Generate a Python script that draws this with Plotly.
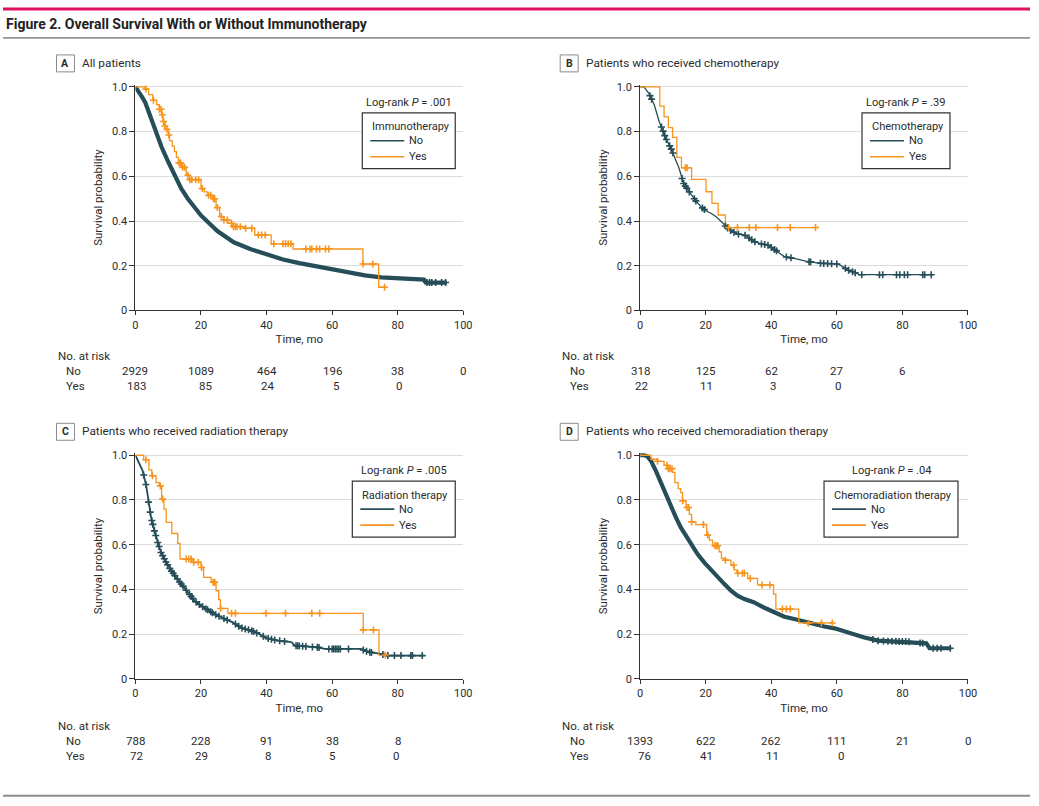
import numpy as np
import plotly.graph_objects as go

W, H = 1039, 806
# the photographed page shows up slightly scaled/offset; reference pixel -> page pixel compensation
SX, OXP = 0.989, 1.5
SY, OYP = 0.988, 4.0
FONT = "Roboto, Liberation Sans, Arial, sans-serif"
TXT = "#2b2b2b"
C_NO = "#254e58"
C_YES = "#f7941d"

# ---------------- data ----------------
risk_times = [0, 20, 40, 60, 80, 100]

# Panel A - All patients
A_no_t = [0, 1, 2, 3, 4, 5, 6, 7, 8, 10, 12, 14, 16, 18, 20, 25, 30, 35, 40, 45, 50, 55, 60, 65, 70, 75, 80, 85, 88, 88.6, 95]
A_no_s = [1.0, 0.98, 0.955, 0.93, 0.89, 0.85, 0.81, 0.77, 0.73, 0.665, 0.60, 0.545, 0.50, 0.46, 0.425, 0.355, 0.305, 0.275, 0.25, 0.228, 0.212, 0.198, 0.186, 0.172, 0.157, 0.148, 0.143, 0.140, 0.138, 0.125, 0.125]
A_no_cens = [88.9, 89.7, 90.4, 91.6, 93.4, 94.6]
A_yes_t = [0, 2.8, 4.0, 5.3, 6.5, 7.3, 8.0, 8.4, 9.0, 9.4, 10.0, 10.4, 11.2, 11.9, 12.5, 13.1, 14.0, 15.5, 16.5, 20.0, 21.0, 22.0, 23.6, 24.6, 25.7, 27.0, 28.2, 29.7, 33.3, 36.4, 41.4, 48.1, 69.4, 74.2, 76.0]
A_yes_s = [1.0, 0.99, 0.965, 0.94, 0.92, 0.90, 0.875, 0.845, 0.825, 0.81, 0.785, 0.76, 0.735, 0.71, 0.685, 0.66, 0.64, 0.605, 0.585, 0.545, 0.53, 0.515, 0.50, 0.46, 0.42, 0.405, 0.39, 0.375, 0.368, 0.338, 0.298, 0.275, 0.208, 0.104, 0.104]
A_yes_cens = [3.2, 5.5, 7.3, 7.8, 8.2, 8.6, 9.0, 9.6, 10.2, 13.3, 13.8, 14.4, 15.0, 16.0, 16.6, 17.2, 18.4, 19.3, 20.4, 22.3, 23.0, 23.8, 24.2, 25.0, 26.2, 27.0, 28.0, 29.3, 29.9, 30.5, 31.0, 32.0, 33.6, 35.5, 37.5, 38.5, 39.6, 42.2, 45.0, 45.8, 46.6, 47.4, 52.0, 53.2, 53.8, 55.2, 56.2, 58.0, 59.0, 69.4, 72.4, 76.0]

# Panel B - Chemotherapy
B_no_t = [0, 1.2, 2.7, 4.3, 5.8, 6.8, 7.8, 9.4, 10.4, 11.9, 13.2, 14.3, 15.5, 17.0, 18.5, 20.0, 21.6, 23.1, 24.6, 26.2, 27.7, 29.7, 31.8, 33.3, 34.8, 36.9, 38.9, 40.4, 42.0, 44.0, 48.0, 51.1, 55.2, 60.3, 61.8, 63.3, 65.4, 66.9, 88.8]
B_no_s = [1.0, 1.0, 0.97, 0.92, 0.845, 0.81, 0.77, 0.725, 0.69, 0.635, 0.57, 0.545, 0.52, 0.49, 0.465, 0.446, 0.435, 0.42, 0.40, 0.375, 0.357, 0.342, 0.338, 0.323, 0.308, 0.298, 0.293, 0.278, 0.263, 0.241, 0.23, 0.219, 0.211, 0.208, 0.196, 0.182, 0.17, 0.16, 0.16]
B_no_cens = [3.0, 3.5, 6.5, 7.0, 7.5, 8.0, 9.0, 9.5, 10.0, 12.8, 13.3, 13.8, 14.2, 15.0, 16.5, 17.0, 19.0, 19.6, 26.0, 26.6, 27.6, 28.6, 30.0, 32.0, 33.2, 34.0, 35.0, 37.0, 38.0, 39.0, 40.0, 41.0, 41.6, 44.6, 46.0, 51.5, 52.0, 55.0, 56.0, 57.2, 58.4, 60.0, 62.6, 63.6, 64.8, 65.6, 67.6, 73.0, 74.0, 78.2, 79.2, 80.6, 81.6, 86.2, 86.8, 88.8]
B_yes_t = [0, 6.0, 7.3, 8.6, 9.9, 11.2, 12.6, 15.7, 20.1, 21.9, 23.8, 26.0, 53.5]
B_yes_s = [1.0, 0.914, 0.866, 0.818, 0.774, 0.685, 0.638, 0.586, 0.531, 0.479, 0.427, 0.371, 0.371]
B_yes_cens = [13.8, 14.3, 27.0, 29.7, 33.3, 35.3, 41.9, 45.8, 53.5]

# Panel C - Radiation therapy
C_no_t = [0, 1.2, 2.2, 3.3, 4.1, 4.8, 5.8, 6.8, 7.8, 9.4, 10.9, 12.4, 14.0, 16.0, 18.0, 20.0, 22.1, 24.1, 27.2, 29.7, 32.3, 35.3, 37.9, 39.9, 43.5, 47.6, 48.6, 55.7, 57.7, 68.9, 70.0, 71.5, 75.0, 76.6, 87.8]
C_no_s = [1.0, 0.96, 0.93, 0.863, 0.78, 0.72, 0.662, 0.61, 0.565, 0.52, 0.484, 0.454, 0.424, 0.387, 0.35, 0.327, 0.308, 0.29, 0.268, 0.253, 0.228, 0.216, 0.20, 0.182, 0.171, 0.164, 0.149, 0.141, 0.134, 0.134, 0.126, 0.119, 0.112, 0.104, 0.104]
C_no_cens = [2.5, 3.2, 4.0, 4.5, 5.0, 5.3, 5.8, 6.2, 6.8, 7.2, 7.8, 8.3, 8.8, 9.3, 9.8, 10.5, 11.0, 11.5, 12.0, 12.8, 13.5, 14.0, 14.5, 15.5, 16.5, 17.0, 17.5, 18.5, 19.5, 20.5, 21.5, 22.0, 23.0, 23.5, 24.5, 25.5, 27.0, 28.0, 30.5, 31.5, 32.5, 33.5, 34.5, 35.5, 36.0, 37.0, 39.0, 40.5, 41.5, 42.5, 44.0, 45.5, 49.0, 49.5, 50.0, 51.0, 52.0, 54.0, 55.5, 56.0, 59.0, 60.0, 60.5, 61.0, 61.5, 62.0, 62.5, 65.0, 69.5, 70.5, 71.5, 72.0, 75.5, 77.0, 79.0, 81.0, 84.0, 84.5, 87.5]
C_yes_t = [0, 2.5, 4.1, 5.0, 6.3, 7.3, 8.0, 8.7, 9.4, 11.1, 12.9, 13.6, 17.5, 20.0, 20.8, 23.1, 24.6, 25.4, 25.9, 28.2, 69.5, 74.3, 76.3]
C_yes_s = [1.0, 0.98, 0.935, 0.908, 0.878, 0.863, 0.804, 0.759, 0.70, 0.65, 0.606, 0.536, 0.521, 0.498, 0.454, 0.432, 0.394, 0.354, 0.315, 0.293, 0.219, 0.107, 0.107]
C_yes_cens = [3.2, 5.2, 7.6, 8.3, 15.5, 16.3, 17.0, 17.8, 19.2, 20.2, 23.7, 24.2, 26.0, 29.3, 30.5, 39.8, 45.8, 53.8, 56.2, 69.5, 72.6, 76.2]

# Panel D - Chemoradiation therapy
D_no_t = [0, 1.2, 2.2, 3.3, 4.8, 6.3, 7.8, 9.4, 10.9, 12.4, 14.0, 15.5, 17.5, 19.6, 21.6, 23.6, 25.7, 27.7, 29.7, 31.8, 34.8, 37.9, 40.9, 44.0, 47.0, 50.1, 53.2, 56.2, 59.3, 62.3, 65.4, 68.4, 72.5, 76.6, 81.7, 85.2, 87.3, 88.3, 94.9]
D_no_s = [1.0, 1.0, 0.995, 0.975, 0.93, 0.878, 0.82, 0.766, 0.722, 0.677, 0.64, 0.603, 0.558, 0.52, 0.487, 0.457, 0.424, 0.394, 0.372, 0.357, 0.342, 0.318, 0.298, 0.278, 0.268, 0.256, 0.246, 0.234, 0.226, 0.211, 0.199, 0.185, 0.171, 0.168, 0.167, 0.16, 0.159, 0.137, 0.137]
D_no_cens = [71.0, 72.6, 74.2, 75.6, 76.8, 78.0, 79.0, 80.0, 81.0, 82.0, 85.4, 86.2, 89.4, 90.6, 91.8, 94.6]
D_yes_t = [0, 3.3, 5.3, 7.3, 8.4, 9.9, 10.6, 11.6, 12.4, 12.9, 14.0, 15.0, 15.7, 17.0, 20.3, 21.1, 22.1, 24.1, 24.8, 25.9, 27.7, 28.7, 29.5, 32.8, 35.8, 40.7, 41.4, 48.4, 58.8]
D_yes_s = [1.0, 0.982, 0.973, 0.955, 0.94, 0.923, 0.878, 0.851, 0.833, 0.796, 0.766, 0.736, 0.702, 0.69, 0.643, 0.62, 0.595, 0.568, 0.539, 0.531, 0.509, 0.487, 0.472, 0.449, 0.42, 0.379, 0.312, 0.25, 0.25]
D_yes_cens = [5.3, 8.2, 8.6, 9.1, 9.7, 13.0, 14.3, 14.8, 15.7, 19.3, 20.6, 22.8, 23.3, 23.7, 26.0, 28.5, 29.8, 31.2, 31.8, 33.6, 37.2, 39.6, 43.4, 44.6, 45.8, 51.3, 55.3, 58.6]

# Numbers at risk
A_risk_no = [2929, 1089, 464, 196, 38, 0]
A_risk_yes = [183, 85, 24, 5, 0]
B_risk_no = [318, 125, 62, 27, 6]
B_risk_yes = [22, 11, 3, 0]
C_risk_no = [788, 228, 91, 38, 8]
C_risk_yes = [72, 29, 8, 5, 0]
D_risk_no = [1393, 622, 262, 111, 21, 0]
D_risk_yes = [76, 41, 11, 0]

panel_titles = ["All patients", "Patients who received chemotherapy",
                "Patients who received radiation therapy", "Patients who received chemoradiation therapy"]
legend_titles = ["Immunotherapy", "Chemotherapy", "Radiation therapy", "Chemoradiation therapy"]
group_names = ["No", "Yes"]
pvalues = [".001", ".39", ".005", ".04"]
y_ticks = [0, 0.2, 0.4, 0.6, 0.8, 1.0]
y_ticktext = ["0", "0.2", "0.4", "0.6", "0.8", "1.0"]
x_ticks = [0, 20, 40, 60, 80, 100]

# ---------------- layout geometry (reference pixels -> paper) ----------------
def px(x):
    return min(1.0, max(0.0, (x - OXP) / SX / W))

def py(y):
    return min(1.0, max(0.0, 1 - (y - OYP) / SY / H))

panels = [
    dict(key="A", x0=134, x1=462, ytop=87, ybot=311, lbl_x=55, lbl_y=55, leg=(361, 113, 93), lr_y=103, risk_y=357,
         no_t=A_no_t, no_s=A_no_s, no_c=A_no_cens, yes_t=A_yes_t, yes_s=A_yes_s, yes_c=A_yes_cens, no_w=4.2, no_ms=5,
         r_no=A_risk_no, r_yes=A_risk_yes),
    dict(key="B", x0=639, x1=967, ytop=87, ybot=311, lbl_x=559, lbl_y=55, leg=(861, 113, 88), lr_y=103, risk_y=357,
         no_t=B_no_t, no_s=B_no_s, no_c=B_no_cens, yes_t=B_yes_t, yes_s=B_yes_s, yes_c=B_yes_cens, no_w=1.3, no_ms=5,
         r_no=B_risk_no, r_yes=B_risk_yes),
    dict(key="C", x0=134, x1=462, ytop=456, ybot=680, lbl_x=55, lbl_y=424, leg=(351, 482, 103), lr_y=471, risk_y=727,
         no_t=C_no_t, no_s=C_no_s, no_c=C_no_cens, yes_t=C_yes_t, yes_s=C_yes_s, yes_c=C_yes_cens, no_w=1.8, no_ms=5,
         r_no=C_risk_no, r_yes=C_risk_yes),
    dict(key="D", x0=639, x1=967, ytop=456, ybot=680, lbl_x=559, lbl_y=424, leg=(823, 482, 134), lr_y=471, risk_y=727,
         no_t=D_no_t, no_s=D_no_s, no_c=D_no_cens, yes_t=D_yes_t, yes_s=D_yes_s, yes_c=D_yes_cens, no_w=4.2, no_ms=5,
         r_no=D_risk_no, r_yes=D_risk_yes),
]

def on_curve(times, t, s, step):
    t = np.asarray(t, float)
    s = np.asarray(s, float)
    times = np.asarray(times, float)
    if step:
        idx = np.searchsorted(t, times, side="right") - 1
        return s[np.clip(idx, 0, len(s) - 1)]
    return np.interp(times, t, s)

def txt(text, x, y, xanchor="left", size=11.5, xref="paper", xshift=0, color=TXT):
    return dict(text=text, xref=xref, yref="paper", x=x, y=y, xanchor=xanchor, yanchor="middle",
                xshift=xshift, showarrow=False, font=dict(family=FONT, size=size, color=color))

fig = go.Figure()
annotations = []
shapes = []
YMAX = 1.01

for i, p in enumerate(panels):
    n = i + 1
    xa = "x" if n == 1 else f"x{n}"
    ya = "y" if n == 1 else f"y{n}"
    span = p["ybot"] - p["ytop"]
    top_px = p["ytop"] - (YMAX - 1.0) * span
    fig.update_layout(**{
        ("xaxis" if n == 1 else f"xaxis{n}"): dict(
            domain=[px(p["x0"]), px(p["x1"])], range=[0, 100], anchor=ya,
            tickvals=x_ticks, showgrid=False, zeroline=False, showline=True,
            linecolor="#333333", linewidth=1, ticks="outside", ticklen=4, tickcolor="#333333",
            tickfont=dict(family=FONT, size=11, color=TXT),
            title=dict(text="Time, mo", font=dict(family=FONT, size=11.5, color=TXT), standoff=4),
            fixedrange=True),
        ("yaxis" if n == 1 else f"yaxis{n}"): dict(
            domain=[py(p["ybot"]), py(top_px)], range=[0, YMAX], anchor=xa,
            tickvals=y_ticks, ticktext=y_ticktext, showgrid=True, gridcolor="#dcdcdc", gridwidth=1,
            zeroline=False, showline=True, linecolor="#333333", linewidth=1,
            ticks="outside", ticklen=5, tickcolor="#333333",
            tickfont=dict(family=FONT, size=11, color=TXT),
            title=dict(text="Survival probability", font=dict(family=FONT, size=11.5, color=TXT), standoff=6),
            fixedrange=True),
    })

    # curves
    fig.add_trace(go.Scatter(x=p["no_t"], y=p["no_s"], mode="lines", name=group_names[0],
                             line=dict(color=C_NO, width=p["no_w"], shape="linear"),
                             xaxis=xa, yaxis=ya, showlegend=False, hoverinfo="skip"))
    fig.add_trace(go.Scatter(x=p["yes_t"], y=p["yes_s"], mode="lines", name=group_names[1],
                             line=dict(color=C_YES, width=1.3, shape="hv"),
                             xaxis=xa, yaxis=ya, showlegend=False, hoverinfo="skip"))
    fig.add_trace(go.Scatter(x=p["no_c"], y=on_curve(p["no_c"], p["no_t"], p["no_s"], False), mode="markers",
                             marker=dict(symbol="cross-thin", size=p["no_ms"], line=dict(color=C_NO, width=1.6)),
                             showlegend=False, xaxis=xa, yaxis=ya, cliponaxis=False, hoverinfo="skip"))
    fig.add_trace(go.Scatter(x=p["yes_c"], y=on_curve(p["yes_c"], p["yes_t"], p["yes_s"], True), mode="markers",
                             marker=dict(symbol="cross-thin", size=5, line=dict(color=C_YES, width=1.6)),
                             showlegend=False, xaxis=xa, yaxis=ya, cliponaxis=False, hoverinfo="skip"))

    # panel label box and title
    lx, ly = p["lbl_x"], p["lbl_y"]
    shapes.append(dict(type="rect", xref="paper", yref="paper", x0=px(lx), x1=px(lx + 18), y0=py(ly + 17), y1=py(ly),
                       line=dict(color="#8a8a8a", width=1), fillcolor="white"))
    annotations.append(txt(f"<b>{p['key']}</b>", px(lx + 9), py(ly + 8.5), "center", 10.5))
    annotations.append(txt(panel_titles[i], px(lx + 24), py(ly + 8), "left", 11.8))

    # legend box (drawn)
    bx, by, bw = p["leg"]
    shapes.append(dict(type="rect", xref="paper", yref="paper", x0=px(bx), x1=px(bx + bw), y0=py(by + 56), y1=py(by),
                       line=dict(color="#333333", width=1.2), fillcolor="white"))
    annotations.append(txt(legend_titles[i], px(bx + 8), py(by + 14), "left", 11))
    for k, (col, dy) in enumerate(((C_NO, 28), (C_YES, 44))):
        shapes.append(dict(type="line", xref="paper", yref="paper", x0=px(bx + 8), x1=px(bx + 42),
                           y0=py(by + dy), y1=py(by + dy), line=dict(color=col, width=1.6)))
        annotations.append(txt(group_names[k], px(bx + 45), py(by + dy), "left", 11))
    # log-rank
    annotations.append(txt(f"Log-rank <i>P</i> = {pvalues[i]}", px(bx + bw / 2), py(p["lr_y"]), "center", 11.1))

    # at-risk table
    ry = p["risk_y"]
    annotations.append(txt("No. at risk", px(lx), py(ry), "left", 11.5))
    annotations.append(txt(group_names[0], px(lx + 8), py(ry + 15), "left", 11.5))
    annotations.append(txt(group_names[1], px(lx + 8), py(ry + 30), "left", 11.5))
    for j, v in enumerate(p["r_no"]):
        annotations.append(txt(str(v), risk_times[j], py(ry + 15), "center", 11.5, xref=xa))
    for j, v in enumerate(p["r_yes"]):
        shift = 6.3 * len(str(p["r_no"][j])) / 2
        annotations.append(txt(str(v), risk_times[j], py(ry + 30), "right", 11.5, xref=xa, xshift=shift))

# figure header / rules
shapes.append(dict(type="line", xref="paper", yref="paper", x0=0, x1=px(1032), y0=py(9), y1=py(9),
                   line=dict(color="#e0115f", width=3)))
shapes.append(dict(type="line", xref="paper", yref="paper", x0=0, x1=px(1032), y0=py(38), y1=py(38),
                   line=dict(color="#444444", width=1)))
shapes.append(dict(type="line", xref="paper", yref="paper", x0=0, x1=px(1032), y0=py(797), y1=py(797),
                   line=dict(color="#8c8c8c", width=2)))
annotations.append(txt("<b>Figure 2. Overall Survival With or Without Immunotherapy</b>", px(3), py(24), "left", 14, color="#222222"))

fig.update_layout(width=W, height=H, margin=dict(l=0, r=0, t=0, b=0, pad=0),
                  paper_bgcolor="white", plot_bgcolor="white",
                  annotations=annotations, shapes=shapes, showlegend=False,
                  font=dict(family=FONT, color=TXT))

page_css = ("document.documentElement.style.margin='0';document.documentElement.style.padding='0';"
            "document.body.style.margin='0';document.body.style.padding='0';"
            "document.documentElement.style.overflow='hidden';document.body.style.overflow='hidden';")
fig.write_html("out.html", post_script=page_css, config={"displayModeBar": False, "staticPlot": True})
